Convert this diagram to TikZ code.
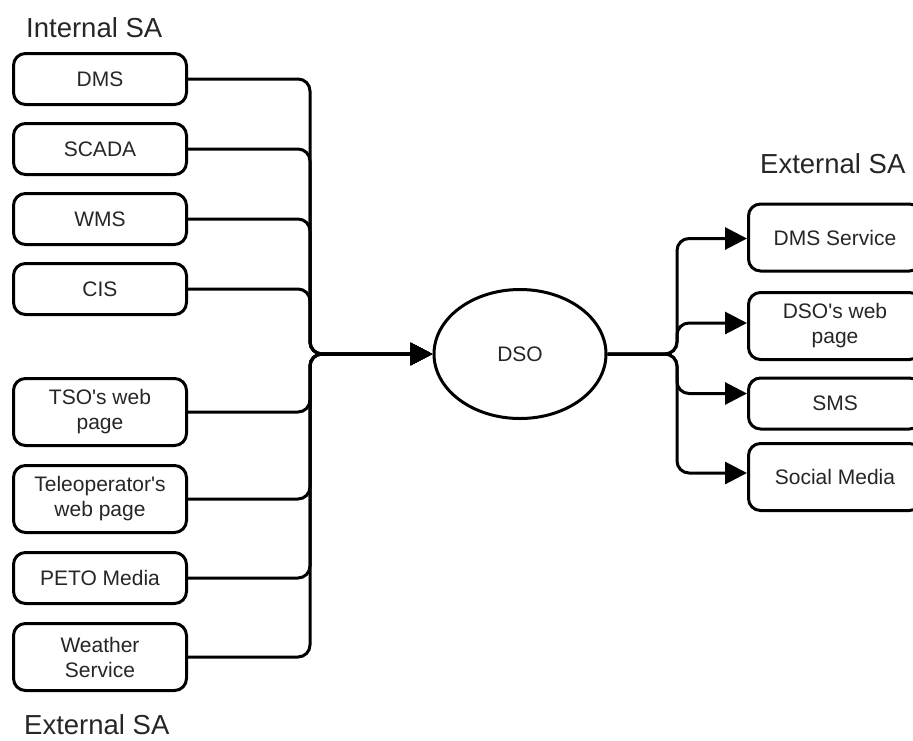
\documentclass[tikz,border=0pt]{standalone}
\usepackage{fontspec}
\setmainfont{Liberation Sans}
\usetikzlibrary{arrows.meta,shapes.geometric}

\tikzset{
  box/.style={draw=black, line width=3pt, rounded corners=12pt, fill=white,
    minimum width=173pt, align=center, inner sep=2pt, text=black!85,
    font=\fontsize{21}{25}\selectfont},
  onebox/.style={box, minimum height=51pt},
  twobox/.style={box, minimum height=67pt},
  title/.style={inner sep=0pt, anchor=base west, text=black!85,
    font=\fontsize{27.5}{32}\selectfont},
  feed/.style={line width=3pt, rounded corners=12pt},
  flow/.style={feed, -{Triangle[length=22pt,width=22pt]}},
}

\begin{document}
\begin{tikzpicture}[x=1pt,y=-1pt]
  \useasboundingbox (0,0) rectangle (913,740);

  % group headings
  \node[title] (intsa) at (26,37.5) {Internal SA};
  \node[title] (extsa) at (24,734) {External SA};
  \node[title] (outsa) at (760,173) {External SA};

  % internal sources
  \node[onebox] (dms)   at (100,79)  {DMS};
  \node[onebox] (scada) at (100,149) {SCADA};
  \node[onebox] (wms)   at (100,219) {WMS};
  \node[onebox] (cis)   at (100,289) {CIS};

  % external sources
  \node[twobox] (tso)   at (100,412) {TSO\textquotesingle s web\\page};
  \node[twobox] (tele)  at (100,499) {Teleoperator\textquotesingle s\\web page};
  \node[onebox] (peto)  at (100,578) {PETO Media};
  \node[twobox] (wthr)  at (100,657) {Weather\\Service};

  % operator
  \node[ellipse, draw=black, line width=3pt, minimum width=172pt,
        minimum height=129pt, inner sep=0pt, text=black!85,
        font=\fontsize{21}{25}\selectfont] (dso) at (520,354) {DSO};

  % outgoing channels
  \node[twobox] (svc)  at (835,237.5) {DMS Service};
  \node[twobox] (web)  at (835,326)   {DSO\textquotesingle s web\\page};
  \node[onebox] (sms)  at (835,403.5) {SMS};
  \node[twobox] (soc)  at (835,477)   {Social Media};

  % junction points of the bus lines
  \coordinate (jl) at (310,354);
  \coordinate (jr) at (677,354);

  % inputs merging into the operator
  \foreach \src in {dms,scada,wms,cis,tso,tele,peto,wthr}
    \draw[flow] (\src.east) -| (jl) -- (dso.west);

  % outputs fanning out to the channels
  \draw[flow] (dso.east) -- (jr) |- ([yshift=-1pt]svc.west);
  \draw[flow] (dso.east) -- (jr) |- ([yshift=3pt]web.west);
  \draw[flow] (dso.east) -- (jr) |- ([yshift=10pt]sms.west);
  \draw[flow] (dso.east) -- (jr) |- ([yshift=4pt]soc.west);
\end{tikzpicture}
\end{document}
